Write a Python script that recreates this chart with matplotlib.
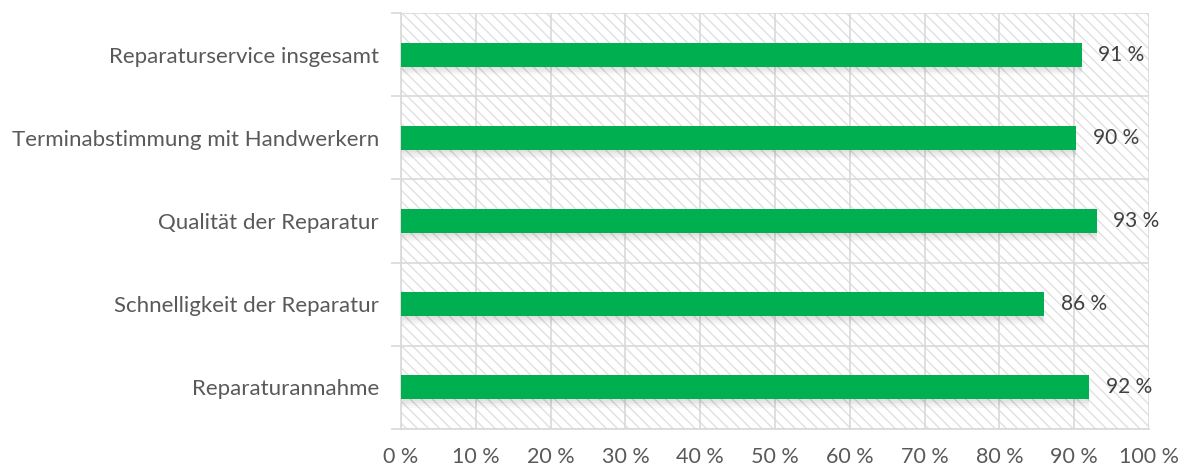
import matplotlib.pyplot as plt
from matplotlib.patches import Rectangle
import numpy as np

# Kategorien von oben nach unten
kategorien = ['Reparaturservice insgesamt',
              'Terminabstimmung mit Handwerkern',
              'Qualität der Reparatur',
              'Schnelligkeit der Reparatur',
              'Reparaturannahme']
werte = [91, 90.3, 93, 86, 92]
beschriftung = ['91 %', '90 %', '93 %', '86 %', '92 %']
xticks = [0, 10, 20, 30, 40, 50, 60, 70, 80, 90, 100]

grau = '#d9d9d9'
text_farbe = '#595959'
gruen = '#00b050'

plt.rcParams['font.family'] = ['Lato', 'DejaVu Sans']

fig = plt.figure(figsize=(11.86, 4.68), dpi=100)
ax = fig.add_axes([0.3381, 0.0833, 0.6307, 0.8889])

n = len(kategorien)
y = np.arange(n)[::-1]

# schraffierter Hintergrund
ax.add_patch(Rectangle((0, 0), 1, 1, transform=ax.transAxes, facecolor='white',
                       edgecolor='#e0e0e0', hatch='\\\\\\', linewidth=0, zorder=0))

# leichter Schatten unter den Balken
for k in range(1, 6):
    ax.barh(y - 0.02 * k, werte, height=0.29, color='#000000', alpha=0.025, zorder=1, linewidth=0)

ax.barh(y, werte, height=0.29, color=gruen, zorder=3, linewidth=0)

for yi, w, t in zip(y, werte, beschriftung):
    ax.annotate(t, (w, yi), xytext=(12, 0), textcoords='offset points', va='center', ha='left',
                fontsize=15, color='#404040', zorder=4)

ax.set_xlim(0, 100)
ax.set_ylim(-0.5, n - 0.5)
ax.set_xticks(xticks)
ax.set_xticklabels([f'{v} %' for v in xticks], fontsize=15.5, color=text_farbe)
ax.set_yticks(y)
ax.set_yticklabels(kategorien, fontsize=16, color=text_farbe)

# Gitterlinien an den Kategoriegrenzen
grenzen = np.arange(n + 1) - 0.5
ax.set_yticks(grenzen, minor=True)
ax.tick_params(axis='y', which='major', length=0, pad=16)
ax.tick_params(axis='y', which='minor', length=7, color=grau, width=1.2)
ax.tick_params(axis='x', length=0, pad=13)
ax.grid(axis='x', color=grau, linewidth=1.2, zorder=2)
ax.grid(axis='y', which='minor', color=grau, linewidth=1.2, zorder=2)
ax.set_axisbelow(True)

for s in ['top', 'right']:
    ax.spines[s].set_visible(False)
ax.spines['left'].set_color(grau)
ax.spines['bottom'].set_color(grau)
ax.spines['left'].set_linewidth(1.2)
ax.spines['bottom'].set_linewidth(1.2)

fig.savefig('out.png', dpi=100)
